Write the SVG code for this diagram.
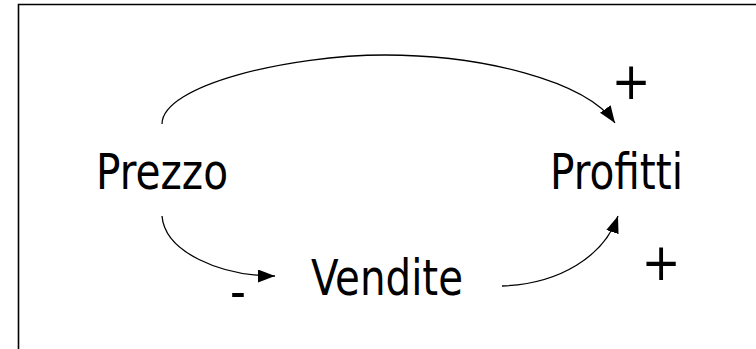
<svg xmlns="http://www.w3.org/2000/svg" width="756" height="349" viewBox="0 0 756 349">
<style>
.t{font-family:"DejaVu Sans Condensed","DejaVu Sans",sans-serif;font-size:49px;fill:#000;text-anchor:middle}
.s{font-family:"DejaVu Sans Condensed","DejaVu Sans",sans-serif;font-size:52px;fill:#000;text-anchor:middle}
.c{fill:none;stroke:#000;stroke-width:1.3}
</style>
<defs>
<marker id="ah" viewBox="0 0 17 13" refX="17" refY="6.5" markerWidth="17" markerHeight="13" markerUnits="userSpaceOnUse" orient="auto">
<path d="M0,0 L17,6.5 L0,13 Z" fill="#000"/>
</marker>
</defs>
<rect width="756" height="349" fill="#fff"/>
<path d="M18.5,349 L18.5,4.5 L756,4.5" fill="none" stroke="#000" stroke-width="1.6"/>
<g id="connectors">
<path class="c" d="M162,124 C162,85 290,55 385,55 C480,55 585,80 615,123" marker-end="url(#ah)"/>
<path class="c" d="M162,216 C165,252 220,276 275,276" marker-end="url(#ah)"/>
<path class="c" d="M502,286 C560,284 604,256 618,216" marker-end="url(#ah)"/>
</g>
<g id="prezzo"><text class="t" x="162" y="189" textLength="132" lengthAdjust="spacingAndGlyphs">Prezzo</text></g>
<g id="profitti"><text class="t" x="616.5" y="189" textLength="133" lengthAdjust="spacingAndGlyphs">Profitti</text></g>
<g id="vendite"><text class="t" x="387" y="295" textLength="152" lengthAdjust="spacingAndGlyphs">Vendite</text></g>
<g id="labels">
<text class="s" x="631" y="99">+</text>
<text class="s" x="661" y="280">+</text>
<text class="t" x="238" y="309">-</text>
</g>
</svg>
